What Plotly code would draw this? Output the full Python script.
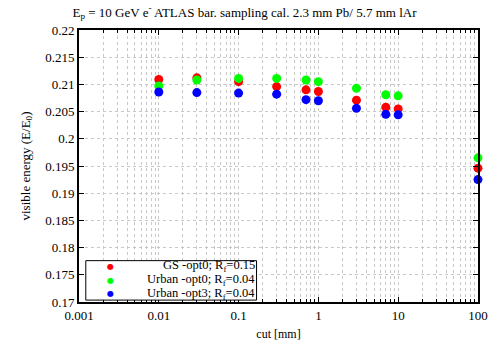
import plotly.graph_objects as go

cuts = [0.01, 0.03, 0.1, 0.3, 0.7, 1, 3, 7, 10, 100]
gs_opt0 = [0.2109, 0.2112, 0.2105, 0.2096, 0.2090, 0.2087, 0.2071, 0.2058, 0.2055, 0.1946]
urban_opt0 = [0.2097, 0.2108, 0.2111, 0.2111, 0.2108, 0.2105, 0.2093, 0.2081, 0.2079, 0.1965]
urban_opt3 = [0.2086, 0.2085, 0.2084, 0.2082, 0.2072, 0.2070, 0.2056, 0.2045, 0.2044, 0.1925]

names = ["GS -opt0; R<sub>f</sub>=0.15", "Urban -opt0; R<sub>f</sub>=0.04", "Urban -opt3; R<sub>f</sub>=0.04"]
colors = ["#ff0000", "#00ff00", "#0000ff"]
font = "Liberation Serif, Times New Roman, serif"

fig = go.Figure()
for ys, nm, c in zip([gs_opt0, urban_opt0, urban_opt3], names, colors):
    fig.add_trace(go.Scatter(x=cuts, y=ys, mode="markers", name=nm,
                             cliponaxis=False, showlegend=False,
                             marker=dict(color=c, size=9, line=dict(width=0))))

# custom legend box (right-aligned entries as in the reference)
lx0, lx1, ly0, ly1 = 0.017, 0.445, 0.007, 0.152
fig.add_shape(type="rect", xref="paper", yref="paper", x0=lx0, x1=lx1, y0=ly0, y1=ly1,
              line=dict(color="black", width=1), fillcolor="white", layer="above")
row_y = [0.131, 0.080, 0.030]
for nm, c, ry in zip(names, colors, row_y):
    fig.add_annotation(xref="paper", yref="paper", x=0.080, y=ry, text="●", showarrow=False,
                       xanchor="center", yanchor="middle", borderpad=0,
                       font=dict(color=c, size=8, family="DejaVu Sans"))
    fig.add_annotation(xref="paper", yref="paper", x=0.443, y=ry, text=nm, showarrow=False,
                       xanchor="right", yanchor="middle", borderpad=0,
                       font=dict(family=font, size=12.5, color="black"))

fig.update_layout(
    width=489, height=342,
    margin=dict(l=79, r=11, t=30, b=40, autoexpand=False),
    paper_bgcolor="white", plot_bgcolor="white",
    font=dict(family=font, size=13, color="black"),
    title=dict(text="E<sub>p</sub> = 10 GeV e<sup>-</sup> ATLAS bar. sampling cal. 2.3 mm Pb/ 5.7 mm lAr",
               x=0.5, xanchor="center", y=0.965, yanchor="middle", font=dict(family=font, size=13)),
    showlegend=False,
)
fig.update_xaxes(type="log", range=[-3, 2.0005], showline=True, linecolor="black", linewidth=2,
                 mirror="ticks", ticks="inside", ticklen=5, tickcolor="black",
                 dtick=1, tickformat="~g", ticklabeloverflow="allow", automargin=False,
                 tickfont=dict(family=font, size=13),
                 showgrid=True, gridcolor="#c8c8c8", griddash="dot", gridwidth=1,
                 minor=dict(dtick="D1", ticks="inside", ticklen=3, tickcolor="black", showgrid=True,
                            gridcolor="#c8c8c8", griddash="dot", gridwidth=1),
                 zeroline=False,
                 title=dict(text="cut [mm]", standoff=8, font=dict(family=font, size=12)))
fig.update_yaxes(range=[0.17, 0.22], dtick=0.005, tickformat="~g", showline=True,
                 linecolor="black", linewidth=2, mirror="ticks", ticks="inside",
                 ticklen=5, tickcolor="black", automargin=False,
                 tickfont=dict(family=font, size=13),
                 showgrid=True, gridcolor="#c8c8c8", griddash="dot", gridwidth=1,
                 zeroline=False,
                 title=dict(text="visible energy (E/E<sub>0</sub>)", standoff=12,
                            font=dict(family=font, size=13)))

fig.write_html("out.html")
